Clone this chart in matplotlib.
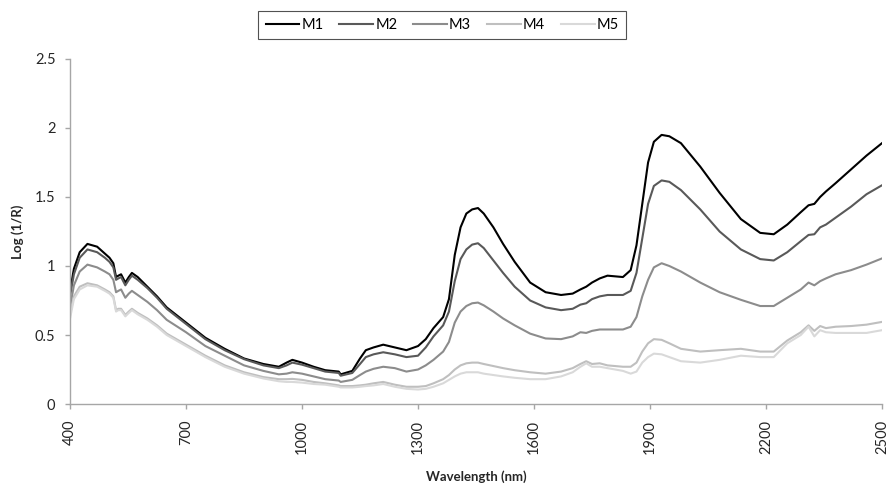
import matplotlib
matplotlib.use("Agg")
import matplotlib.pyplot as plt

plt.rcParams['font.family'] = ['Lato', 'DejaVu Sans']

wavelength = [400, 410, 425, 445, 470, 490, 502, 512, 519, 525, 532, 543, 552, 560, 575,
              600, 625, 650, 700, 750, 800, 850, 900, 940, 960, 975, 1000, 1030, 1060, 1095,
              1100, 1130, 1150, 1165, 1185, 1210, 1240, 1270, 1300, 1320, 1340, 1365, 1380,
              1395, 1410, 1425, 1440, 1455, 1470, 1495, 1520, 1550, 1590, 1630, 1670, 1700,
              1720, 1735, 1750, 1770, 1790, 1830, 1850, 1865, 1880, 1895, 1910, 1930, 1950,
              1980, 2030, 2080, 2135, 2185, 2220, 2255, 2290, 2310, 2325, 2340, 2355, 2380,
              2420, 2460, 2500]

m1 = [0.82, 0.98, 1.10, 1.16, 1.14, 1.09, 1.06, 1.02, 0.92, 0.93, 0.94, 0.88, 0.92, 0.95, 0.92,
      0.85, 0.78, 0.70, 0.59, 0.48, 0.40, 0.33, 0.29, 0.27, 0.30, 0.32, 0.30, 0.27, 0.245, 0.235,
      0.215, 0.24, 0.33, 0.39, 0.41, 0.43, 0.41, 0.39, 0.42, 0.47, 0.55, 0.63, 0.76,
      1.08, 1.28, 1.38, 1.41, 1.42, 1.38, 1.28, 1.16, 1.03, 0.88, 0.81, 0.79, 0.80,
      0.83, 0.85, 0.88, 0.91, 0.93, 0.92, 0.97, 1.15, 1.45, 1.75, 1.90, 1.95, 1.94,
      1.89, 1.72, 1.53, 1.34, 1.24, 1.23, 1.30, 1.39, 1.44, 1.45, 1.50, 1.54, 1.60,
      1.70, 1.80, 1.89]

m2 = [0.78, 0.94, 1.06, 1.12, 1.10, 1.06, 1.03, 0.99, 0.90, 0.91, 0.92, 0.86, 0.90, 0.93, 0.90,
      0.84, 0.77, 0.69, 0.58, 0.47, 0.39, 0.325, 0.28, 0.26, 0.28, 0.30, 0.285, 0.26, 0.235, 0.225,
      0.205, 0.225, 0.29, 0.34, 0.36, 0.375, 0.36, 0.34, 0.35, 0.41, 0.49, 0.57, 0.67,
      0.89, 1.05, 1.12, 1.155, 1.165, 1.13, 1.04, 0.95, 0.85, 0.75, 0.70, 0.68, 0.69,
      0.72, 0.73, 0.76, 0.78, 0.79, 0.79, 0.82, 0.95, 1.20, 1.45, 1.58, 1.62, 1.61,
      1.55, 1.41, 1.25, 1.12, 1.05, 1.04, 1.10, 1.18, 1.225, 1.23, 1.28, 1.30, 1.35,
      1.43, 1.52, 1.585]

m3 = [0.70, 0.86, 0.96, 1.01, 0.99, 0.96, 0.94, 0.90, 0.81, 0.82, 0.83, 0.77, 0.80, 0.82, 0.79,
      0.74, 0.68, 0.61, 0.52, 0.42, 0.35, 0.28, 0.24, 0.215, 0.22, 0.23, 0.22, 0.20, 0.18, 0.17,
      0.16, 0.175, 0.21, 0.235, 0.255, 0.27, 0.26, 0.235, 0.25, 0.28, 0.32, 0.38, 0.45,
      0.59, 0.67, 0.71, 0.73, 0.735, 0.715, 0.67, 0.62, 0.57, 0.51, 0.475, 0.47, 0.49,
      0.52, 0.515, 0.53, 0.54, 0.54, 0.54, 0.56, 0.63, 0.78, 0.90, 0.99, 1.02, 1.00,
      0.96, 0.88, 0.81, 0.755, 0.71, 0.71, 0.77, 0.83, 0.88, 0.86, 0.89, 0.91, 0.94,
      0.97, 1.01, 1.055]

m4 = [0.65, 0.78, 0.85, 0.875, 0.86, 0.83, 0.81, 0.78, 0.68, 0.69, 0.69, 0.645, 0.67, 0.69, 0.66,
      0.62, 0.57, 0.51, 0.43, 0.35, 0.28, 0.23, 0.195, 0.18, 0.18, 0.182, 0.175, 0.16, 0.15, 0.135,
      0.13, 0.13, 0.135, 0.14, 0.15, 0.16, 0.14, 0.125, 0.125, 0.13, 0.15, 0.18, 0.21,
      0.25, 0.28, 0.295, 0.30, 0.30, 0.29, 0.275, 0.26, 0.245, 0.23, 0.22, 0.235, 0.26,
      0.29, 0.31, 0.29, 0.295, 0.28, 0.27, 0.27, 0.30, 0.38, 0.44, 0.47, 0.465, 0.44,
      0.40, 0.38, 0.39, 0.40, 0.38, 0.38, 0.46, 0.52, 0.57, 0.53, 0.565, 0.55, 0.56,
      0.565, 0.575, 0.595]

m5 = [0.62, 0.76, 0.83, 0.86, 0.85, 0.82, 0.80, 0.77, 0.67, 0.68, 0.68, 0.635, 0.66, 0.68, 0.65,
      0.61, 0.56, 0.50, 0.42, 0.34, 0.27, 0.22, 0.185, 0.165, 0.16, 0.16, 0.155, 0.145, 0.14, 0.125,
      0.12, 0.12, 0.125, 0.13, 0.135, 0.145, 0.125, 0.11, 0.105, 0.11, 0.125, 0.15, 0.175,
      0.20, 0.22, 0.23, 0.23, 0.23, 0.22, 0.21, 0.20, 0.19, 0.18, 0.18, 0.20, 0.23,
      0.27, 0.295, 0.27, 0.27, 0.26, 0.24, 0.22, 0.235, 0.30, 0.34, 0.365, 0.36, 0.34,
      0.31, 0.30, 0.32, 0.35, 0.34, 0.34, 0.44, 0.50, 0.56, 0.49, 0.535, 0.52, 0.515,
      0.515, 0.515, 0.535]

labels = ['M1', 'M2', 'M3', 'M4', 'M5']
colors = ['#000000', '#595959', '#8c8c8c', '#bfbfbf', '#d9d9d9']
x_ticks = [400, 700, 1000, 1300, 1600, 1900, 2200, 2500]
y_ticks = [0, 0.5, 1, 1.5, 2, 2.5]
y_tick_labels = ['0', '0.5', '1', '1.5', '2', '2.5']

fig = plt.figure(figsize=(8.9, 4.87), dpi=100)
ax = fig.add_axes([0.0787, 0.1704, 0.9123, 0.7085])

for series, lab, col in zip([m1, m2, m3, m4, m5], labels, colors):
    ax.plot(wavelength, series, color=col, lw=1.5, label=lab)

ax.set_xlim(400, 2500)
ax.set_ylim(0, 2.5)
ax.set_xticks(x_ticks)
ax.set_xticklabels([str(t) for t in x_ticks], rotation=90, fontsize=10.5)
ax.set_yticks(y_ticks)
ax.set_yticklabels(y_tick_labels, fontsize=10.5)

for side in ['top', 'right']:
    ax.spines[side].set_visible(False)
for side in ['left', 'bottom']:
    ax.spines[side].set_color('#a6a6a6')
    ax.spines[side].set_linewidth(1)
ax.tick_params(axis='both', colors='#a6a6a6', labelcolor='#262626', length=3.5, width=1)
ax.tick_params(axis='x', pad=8)
ax.tick_params(axis='y', pad=7)

ax.set_xlabel('Wavelength (nm)', fontsize=9.5, fontweight='bold', color='#262626', labelpad=12)
ax.set_ylabel('Log (1/R)', fontsize=9.5, fontweight='bold', color='#262626', labelpad=8)

leg = fig.legend(loc='center', bbox_to_anchor=(0.497, 0.949), ncol=5, fontsize=10.5,
                 frameon=True, fancybox=False, edgecolor='#262626', handlelength=2.3,
                 handletextpad=0.15, columnspacing=1.1, borderpad=0.5)
leg.get_frame().set_linewidth(0.8)

fig.savefig('out.png', dpi=100)
